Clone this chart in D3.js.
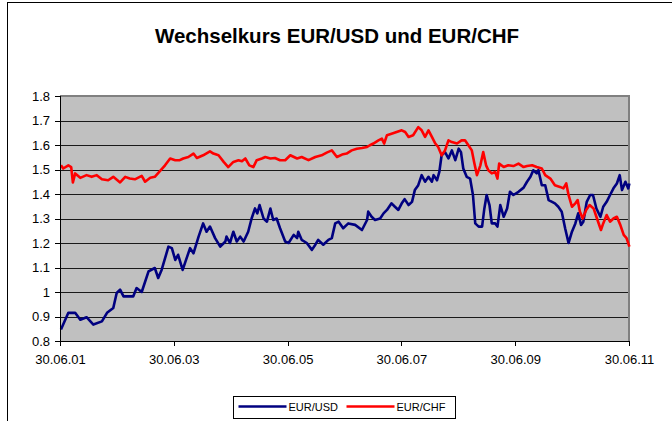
<!DOCTYPE html>
<meta charset="utf-8">
<style>
body { margin: 0; background: #fff; }
svg { font-family: "Liberation Sans", Arial, sans-serif; }
.grid line { stroke: #1a1a1a; shape-rendering: crispEdges; }
.axis path, .axis line { stroke: #000; shape-rendering: crispEdges; }
.axis text { font-size: 13px; fill: #000; }
.rate { fill: none; stroke-width: 2.6; stroke-linejoin: round; }
</style>
<svg width="672" height="421"></svg>
<script src="https://cdn.jsdelivr.net/npm/d3@7"></script>
<script>

// [decimal year, rate]
var usd = [
  [2001.51,0.847],[2001.64,0.915],[2001.76,0.915],[2001.85,0.887],[2001.96,0.897],[2002.08,0.867],
  [2002.23,0.880],[2002.32,0.915],[2002.43,0.935],[2002.49,0.996],[2002.55,1.010],[2002.61,0.982],
  [2002.78,0.982],[2002.84,1.016],[2002.93,1.000],[2003.05,1.084],[2003.16,1.098],[2003.22,1.057],
  [2003.28,1.090],[2003.40,1.185],[2003.46,1.179],[2003.52,1.131],[2003.57,1.152],[2003.65,1.090],
  [2003.72,1.138],[2003.78,1.179],[2003.84,1.158],[2003.93,1.226],[2004.01,1.280],[2004.07,1.246],
  [2004.13,1.267],[2004.22,1.220],[2004.31,1.185],[2004.40,1.206],[2004.42,1.226],[2004.48,1.200],
  [2004.54,1.246],[2004.60,1.206],[2004.66,1.226],[2004.72,1.206],[2004.80,1.246],[2004.86,1.300],
  [2004.92,1.341],[2004.96,1.321],[2005.00,1.355],[2005.07,1.300],[2005.13,1.287],[2005.19,1.341],
  [2005.24,1.294],[2005.30,1.300],[2005.36,1.260],[2005.45,1.206],[2005.51,1.200],[2005.60,1.233],
  [2005.66,1.220],[2005.68,1.246],[2005.74,1.213],[2005.83,1.200],[2005.92,1.172],[2005.98,1.193],
  [2006.03,1.213],[2006.12,1.193],[2006.21,1.213],[2006.27,1.220],[2006.33,1.280],[2006.39,1.287],
  [2006.47,1.260],[2006.56,1.280],[2006.68,1.274],[2006.80,1.253],[2006.89,1.294],[2006.91,1.328],
  [2006.97,1.307],[2007.03,1.294],[2007.12,1.300],[2007.18,1.321],[2007.24,1.335],[2007.32,1.362],
  [2007.38,1.348],[2007.44,1.335],[2007.50,1.362],[2007.55,1.379],[2007.62,1.355],[2007.68,1.368],
  [2007.73,1.416],[2007.79,1.436],[2007.85,1.477],[2007.91,1.450],[2007.97,1.470],[2008.03,1.450],
  [2008.06,1.477],[2008.12,1.456],[2008.16,1.490],[2008.20,1.558],[2008.26,1.571],[2008.32,1.545],
  [2008.38,1.578],[2008.44,1.538],[2008.50,1.585],[2008.54,1.571],[2008.58,1.504],[2008.64,1.470],
  [2008.70,1.463],[2008.75,1.396],[2008.79,1.280],[2008.85,1.267],[2008.91,1.267],[2008.95,1.341],
  [2008.99,1.396],[2009.04,1.355],[2009.08,1.280],[2009.14,1.280],[2009.18,1.267],[2009.23,1.355],
  [2009.29,1.307],[2009.35,1.341],[2009.40,1.409],[2009.46,1.396],[2009.55,1.409],[2009.64,1.426],
  [2009.70,1.450],[2009.76,1.470],[2009.81,1.497],[2009.87,1.484],[2009.90,1.497],[2009.96,1.436],
  [2010.02,1.436],[2010.08,1.375],[2010.14,1.368],[2010.19,1.362],[2010.25,1.348],[2010.31,1.328],
  [2010.37,1.260],[2010.43,1.200],[2010.49,1.246],[2010.55,1.280],[2010.60,1.321],[2010.65,1.274],
  [2010.69,1.287],[2010.75,1.368],[2010.81,1.396],[2010.86,1.396],[2010.92,1.341],[2010.99,1.307],
  [2011.04,1.348],[2011.10,1.368],[2011.16,1.396],[2011.22,1.423],[2011.28,1.443],[2011.33,1.477],
  [2011.37,1.416],[2011.43,1.450],[2011.48,1.423],[2011.50,1.443]
];

var chf = [
  [2001.51,1.517],[2001.55,1.504],[2001.64,1.517],[2001.69,1.510],[2001.72,1.447],[2001.76,1.484],
  [2001.85,1.466],[2001.96,1.477],[2002.05,1.470],[2002.14,1.477],[2002.23,1.460],[2002.34,1.456],
  [2002.43,1.470],[2002.55,1.447],[2002.64,1.470],[2002.72,1.463],[2002.81,1.460],[2002.93,1.474],
  [2002.99,1.450],[2003.08,1.466],[2003.16,1.470],[2003.25,1.493],[2003.34,1.517],[2003.43,1.545],
  [2003.52,1.538],[2003.60,1.538],[2003.66,1.545],[2003.75,1.551],[2003.84,1.565],[2003.90,1.547],
  [2004.01,1.558],[2004.13,1.574],[2004.19,1.565],[2004.28,1.558],[2004.37,1.531],[2004.45,1.510],
  [2004.54,1.531],[2004.63,1.538],[2004.69,1.534],[2004.75,1.545],[2004.82,1.517],[2004.89,1.510],
  [2004.95,1.538],[2005.04,1.545],[2005.10,1.551],[2005.19,1.545],[2005.27,1.547],[2005.36,1.538],
  [2005.45,1.538],[2005.54,1.558],[2005.66,1.545],[2005.74,1.551],[2005.86,1.538],[2005.98,1.551],
  [2006.09,1.558],[2006.18,1.569],[2006.27,1.578],[2006.36,1.551],[2006.45,1.561],[2006.53,1.565],
  [2006.62,1.578],[2006.71,1.585],[2006.80,1.588],[2006.89,1.592],[2006.94,1.599],[2007.00,1.606],
  [2007.09,1.619],[2007.15,1.626],[2007.19,1.606],[2007.24,1.640],[2007.32,1.646],[2007.41,1.653],
  [2007.50,1.660],[2007.56,1.653],[2007.62,1.633],[2007.70,1.640],[2007.79,1.673],[2007.85,1.660],
  [2007.91,1.633],[2007.97,1.660],[2008.03,1.633],[2008.09,1.606],[2008.14,1.592],[2008.20,1.558],
  [2008.26,1.578],[2008.32,1.619],[2008.38,1.612],[2008.47,1.606],[2008.55,1.619],[2008.61,1.619],
  [2008.67,1.599],[2008.73,1.578],[2008.77,1.531],[2008.82,1.477],[2008.88,1.517],[2008.93,1.571],
  [2008.98,1.517],[2009.02,1.497],[2009.08,1.484],[2009.14,1.490],[2009.18,1.463],[2009.21,1.524],
  [2009.29,1.510],[2009.37,1.517],[2009.46,1.514],[2009.55,1.524],[2009.64,1.510],[2009.70,1.514],
  [2009.79,1.517],[2009.87,1.510],[2009.96,1.504],[2010.02,1.477],[2010.11,1.463],[2010.19,1.436],
  [2010.28,1.429],[2010.34,1.423],[2010.39,1.443],[2010.43,1.396],[2010.49,1.348],[2010.55,1.362],
  [2010.59,1.375],[2010.63,1.328],[2010.68,1.300],[2010.74,1.335],[2010.80,1.355],[2010.87,1.341],
  [2010.93,1.300],[2011.00,1.253],[2011.04,1.280],[2011.10,1.314],[2011.16,1.287],[2011.22,1.300],
  [2011.28,1.307],[2011.34,1.274],[2011.40,1.233],[2011.45,1.220],[2011.50,1.185]
];

var xTickLabels = ["30.06.01", "30.06.03", "30.06.05", "30.06.07", "30.06.09", "30.06.11"];
var yTicks = [0.8, 0.9, 1, 1.1, 1.2, 1.3, 1.4, 1.5, 1.6, 1.7, 1.8];
var seriesNames = ["EUR/USD", "EUR/CHF"];
var seriesColors = ["#000080", "#ff0000"];

function toDate(v) {
  var yr = Math.floor(v);
  var start = new Date(yr, 0, 1), end = new Date(yr + 1, 0, 1);
  return new Date(+start + (v - yr) * (end - start));
}
function parseTick(s) {
  var p = s.split(".");
  return new Date(2000 + +p[2], +p[1] - 1, +p[0]);
}

var svg = d3.select("svg");
var plotLeft = 60, plotRight = 629, plotTop = 96, plotBottom = 341;

// outer chart frame (cut at the window edge)
svg.append("rect")
    .attr("x", 7.5).attr("y", 2.5)
    .attr("width", 700).attr("height", 460)
    .attr("fill", "none").attr("stroke", "#000");

svg.append("text")
    .attr("x", 337).attr("y", 43)
    .attr("text-anchor", "middle")
    .style("font-size", "20.5px").style("font-weight", "bold")
    .text("Wechselkurs EUR/USD und EUR/CHF");

var x = d3.scaleTime()
    .domain([parseTick(xTickLabels[0]), parseTick(xTickLabels[xTickLabels.length - 1])])
    .range([plotLeft, plotRight]);
var y = d3.scaleLinear().domain([0.8, 1.8]).range([plotBottom, plotTop]);

svg.append("rect")
    .attr("x", plotLeft).attr("y", plotTop)
    .attr("width", plotRight - plotLeft).attr("height", plotBottom - plotTop)
    .attr("fill", "#c0c0c0");

svg.append("g").attr("class", "grid")
  .selectAll("line")
    .data(yTicks.slice(1))
  .enter().append("line")
    .attr("x1", plotLeft).attr("x2", plotRight)
    .attr("y1", function(d) { return Math.round(y(d)) + 0.5; })
    .attr("y2", function(d) { return Math.round(y(d)) + 0.5; });

// plot area border
svg.append("path")
    .attr("d", "M" + plotLeft + "," + plotTop + "H" + plotRight + "V" + plotBottom)
    .attr("fill", "none").attr("stroke", "#808080").attr("stroke-width", 2);

var line = d3.line()
    .x(function(d) { return x(toDate(d[0])); })
    .y(function(d) { return y(d[1]); });

[usd, chf].forEach(function(s, i) {
  svg.append("path")
      .datum(s)
      .attr("class", "rate")
      .attr("stroke", seriesColors[i])
      .attr("d", line);
});

var yAxis = d3.axisLeft(y)
    .tickValues(yTicks)
    .tickSize(5).tickPadding(5)
    .tickFormat(function(d) { return String(+d.toFixed(1)); });
svg.append("g").attr("class", "axis")
    .attr("transform", "translate(" + plotLeft + ",0)")
    .call(yAxis)
    .call(function(g) { g.select(".domain").attr("d", "M0," + plotTop + "V" + plotBottom); });

var xAxis = d3.axisBottom(x)
    .tickValues(xTickLabels.map(parseTick))
    .tickSize(5).tickPadding(9)
    .tickFormat(function(d, i) { return xTickLabels[i]; });
svg.append("g").attr("class", "axis")
    .attr("transform", "translate(0," + plotBottom + ")")
    .call(xAxis)
    .call(function(g) { g.select(".domain").attr("d", "M" + plotLeft + ",0H" + plotRight); });

// legend
var lg = svg.append("g").attr("transform", "translate(233.5,396.5)");
lg.append("rect").attr("width", 222).attr("height", 22)
    .attr("fill", "#fff").attr("stroke", "#000");
var item = lg.selectAll(".item")
    .data(seriesNames)
  .enter().append("g")
    .attr("transform", function(d, i) { return "translate(" + (5 + i * 108) + ",10)"; });
item.append("line")
    .attr("x1", 0).attr("x2", 48)
    .attr("stroke", function(d, i) { return seriesColors[i]; })
    .attr("stroke-width", 2.6);
item.append("text")
    .attr("x", 50).attr("y", 4)
    .style("font-size", "11px")
    .text(function(d) { return d; });

</script>
